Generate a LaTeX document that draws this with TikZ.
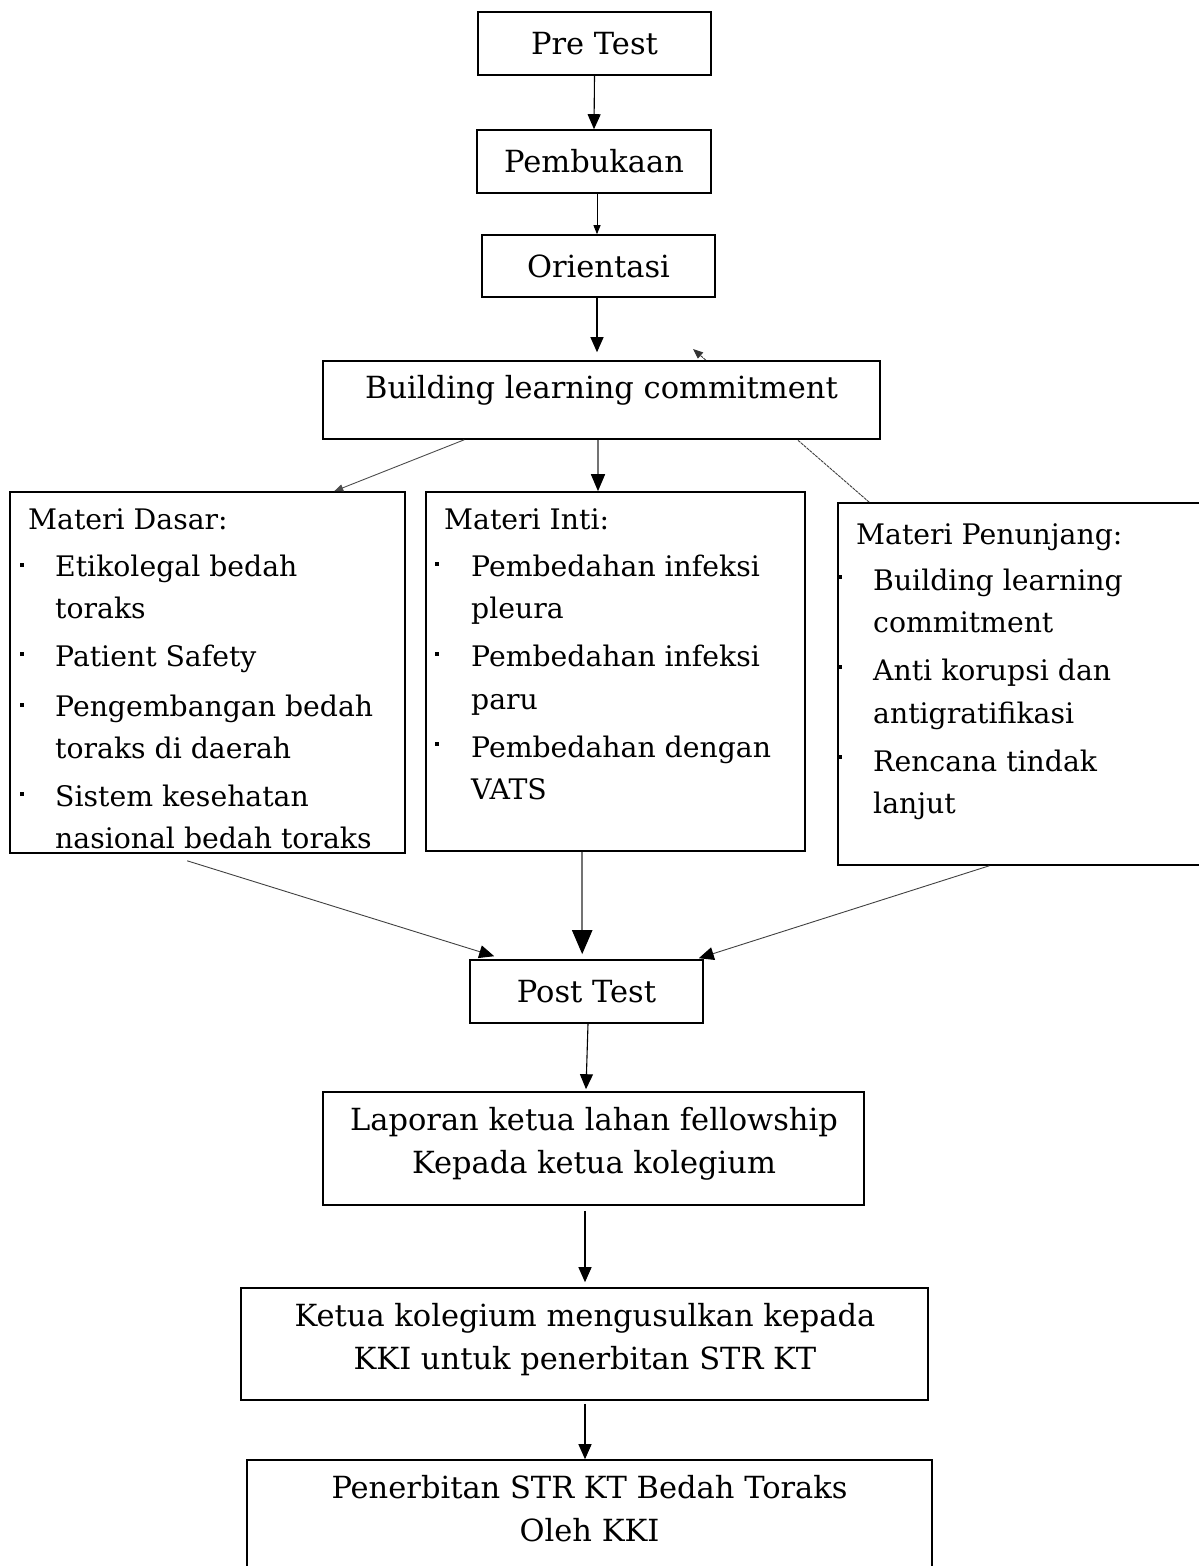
\documentclass[tikz,border=0pt]{standalone}
\usepackage{fontspec}
\setmainfont{DejaVu Serif}
\usetikzlibrary{arrows.meta,calc}
\begin{document}
\begin{tikzpicture}[x=1pt,y=-1pt,
  box/.style={draw,line width=1.6pt,fill=white,inner sep=0pt,font=\fontsize{30.5}{42}\selectfont,align=center},
  txt/.style={anchor=base west,inner sep=0pt,font=\fontsize{28.3}{42}\selectfont},
  btxt/.style={font=\fontsize{30.5}{43}\selectfont,align=center,inner sep=0pt},
  bul/.style={rectangle,fill=black,inner sep=0pt,minimum size=3.8pt},
  arr/.style={line width=1.1pt,-{Triangle[length=15pt,width=13pt]}},
  sarr/.style={line width=0.9pt,-{Triangle[length=9pt,width=7pt]}},
  garr/.style={line width=2.2pt,draw=black!55,-{Triangle[length=24pt,width=20pt,fill=black,color=black]}},
  tarr/.style={line width=0.9pt,draw=black!75,-{Triangle[length=15pt,width=13pt,color=black]}}
]
\useasboundingbox (0,0) rectangle (1199,1566);

% hidden connector from Materi Penunjang up behind the commitment box
\node[box,minimum width=368pt,minimum height=362pt] (pen) at (1022,684) {};
\draw[line width=0.9pt,draw=black!75,dash pattern=on 3pt off 0.8pt,-{Triangle[length=10pt,width=8pt,color=black!80]}] ($(pen.north west)+(32,0)$) -- (693,349);

\node[box,minimum width=233pt,minimum height=63pt] (pre) at (594.5,43.5) {Pre Test};
\node[box,minimum width=234pt,minimum height=63pt] (pem) at (594,161.5) {Pembukaan};
\node[box,minimum width=233pt,minimum height=62pt] (ori) at (598.5,266) {Orientasi};
\node[box,minimum width=557pt,minimum height=78pt] (blc) at (601.5,400) {};
\node[btxt] (tblc) at (601.5,390) {Building learning commitment};

\node[box,minimum width=395pt,minimum height=361pt] (dasar) at (207.5,672.5) {};
\node[box,minimum width=379pt,minimum height=359pt] (inti) at (615.5,671.5) {};

\node[box,minimum width=233pt,minimum height=63pt] (post) at (586.5,991.5) {Post Test};
\node[box,minimum width=541pt,minimum height=113pt] (lap) at (593.5,1148.5) {};
\node[btxt] (tlap) at (594,1143.5) {Laporan ketua lahan fellowship\\Kepada ketua kolegium};
\node[box,minimum width=687pt,minimum height=112pt] (ket) at (584.5,1344) {};
\node[btxt] (tket) at (585,1339.5) {Ketua kolegium mengusulkan kepada\\KKI untuk penerbitan STR KT};
\node[box,minimum width=685pt,minimum height=110pt] (pnb) at (589.5,1515) {};
\node[btxt] (tpnb) at (589.5,1509) {Penerbitan STR KT Bedah Toraks\\Oleh KKI};

% Materi Dasar
\node[txt] (d0) at (28,529) {Materi Dasar:};
\node[txt] (d1) at (55,576) {Etikolegal bedah};
\node[txt] (d1b) at (55,618) {toraks};
\node[txt] (d2) at (55,666) {Patient Safety};
\node[txt] (d3) at (55,716) {Pengembangan bedah};
\node[txt] (d3b) at (55,758) {toraks di daerah};
\node[txt] (d4) at (55,806) {Sistem kesehatan};
\node[txt] (d4b) at (55,848) {nasional bedah toraks};
\node[bul] (db1) at (22,565) {};
\node[bul] (db2) at (22,654) {};
\node[bul] (db3) at (22,705) {};
\node[bul] (db4) at (22,794) {};

% Materi Inti
\node[txt] (i0) at (444,529) {Materi Inti:};
\node[txt] (i1) at (471,576) {Pembedahan infeksi};
\node[txt] (i1b) at (471,618) {pleura};
\node[txt] (i2) at (471,666) {Pembedahan infeksi};
\node[txt] (i2b) at (471,709) {paru};
\node[txt] (i3) at (471,757) {Pembedahan dengan};
\node[txt] (i3b) at (471,799) {VATS};
\node[bul] (ib1) at (437,564) {};
\node[bul] (ib2) at (437,654) {};
\node[bul] (ib3) at (437,744) {};

% Materi Penunjang
\node[txt] (p0) at (856,544) {Materi Penunjang:};
\node[txt] (p1) at (873,590) {Building learning};
\node[txt] (p1b) at (873,632) {commitment};
\node[txt] (p2) at (873,680) {Anti korupsi dan};
\node[txt] (p2b) at (873,723) {antigratifikasi};
\node[txt] (p3) at (873,771) {Rencana tindak};
\node[txt] (p3b) at (873,813) {lanjut};
\node[bul] (pb1) at (840,577) {};
\node[bul] (pb2) at (840,667) {};
\node[bul] (pb3) at (840,757) {};

% connectors
\draw[arr] (pre.south) -- (pem.north);
\draw[sarr] ($(pem.south)+(3,0)$) -- ($(ori.north)+(-1.5,0)$);
\draw[arr] ($(ori.south)+(-1.5,0)$) -- ($(blc.north)+(-4.5,-8)$);
\draw[sarr,draw=black!70] ($(blc.south west)+(142,0)$) -- ($(dasar.north west)+(325,0)$);
\draw[line width=1.6pt,draw=black!55,-{Triangle[length=17pt,width=14pt,color=black]}] ($(blc.south)+(-3.5,0)$) -- ($(inti.north)+(-17.5,0)$);
\draw[tarr] ($(dasar.south west)+(178,7)$) -- ($(post.north west)+(25,-3)$);
\draw[garr] ($(inti.south west)+(157,0)$) -- ($(post.north west)+(113,-5)$);
\draw[tarr] ($(pen.south west)+(152,0)$) -- ($(post.north east)+(-5,-1)$);
\draw[arr] ($(post.south)+(1.5,0)$) -- ($(lap.north)+(-7.5,-2)$);
\draw[arr] ($(lap.south)+(-8.5,5)$) -- ($(ket.north)+(0.5,-5)$);
\draw[arr] ($(ket.south)+(0.5,3)$) -- ($(pnb.north)+(-4.5,0)$);
\end{tikzpicture}
\end{document}
